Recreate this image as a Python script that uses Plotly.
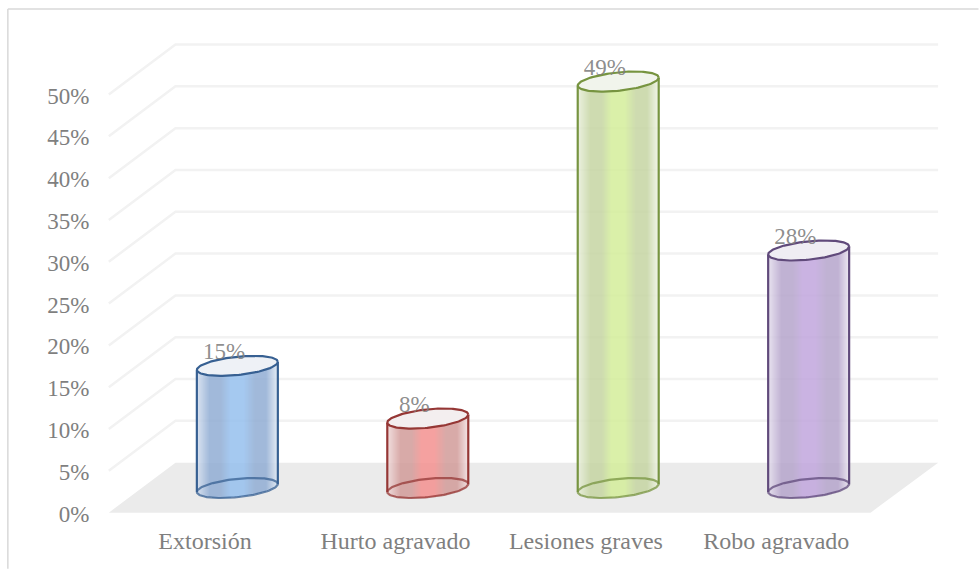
import numpy as np
import plotly.graph_objects as go

categories = ["Extorsión", "Hurto agravado", "Lesiones graves", "Robo agravado"]
values = [14.6, 8.3, 48.6, 28.4]
y_ticks = [0, 5, 10, 15, 20, 25, 30, 35, 40, 45, 50]
outline = ["#376092", "#953735", "#779440", "#604a7b"]
centre_rgb = [(150, 192, 238), (243, 146, 144), (212, 238, 155), (193, 167, 221)]
shade_rgb = [(146, 174, 212), (210, 156, 154), (198, 213, 163), (182, 165, 204)]
cap_rgb = [(238, 241, 246), (243, 238, 239), (241, 244, 236), (239, 237, 243)]

FONT = "Liberation Serif"
GREY = "#7f7f7f"
DEPTH_X, DEPTH_Y = 0.35, 5.98
XR = [-0.52, 3.87]
YR = [-0.4, 56.4]
SX, SY = 190.5, 8.36
BAR_OFF, BAR_A = 0.175, 0.2126
ELL_K, ELL_C, BASE = 0.48, 1.1, 2.95
ALPHA = 0.86

fig = go.Figure()

# floor and wall grid sit under everything
fig.add_shape(type="path", xref="x", yref="y", layer="below", line_width=0, fillcolor="#ebebeb",
              path=f"M -0.5 0 L 3.5 0 L 3.855 {DEPTH_Y} L -0.15 {DEPTH_Y} Z")
for v in y_ticks[1:]:
    fig.add_shape(type="path", xref="x", yref="y", layer="below",
                  line=dict(color="#f2f2f2", width=2.5),
                  path=f"M -0.5 {v} L -0.15 {v + DEPTH_Y} L 3.855 {v + DEPTH_Y}")


def mix(a, b, t):
    return tuple(a[i] + (b[i] - a[i]) * t for i in range(3))


def rgba(c):
    return f"rgba({c[0]:.0f},{c[1]:.0f},{c[2]:.0f},{ALPHA})"


def ellipse(cx, yc):
    t = np.linspace(0, 2 * np.pi, 120)
    return cx + BAR_A * np.cos(t), yc + ELL_K * np.cos(t) + ELL_C * np.sin(t)


def line(xs, ys, color, width, opacity=1.0, fill=None):
    fig.add_trace(go.Scatter(x=xs, y=ys, mode="lines", opacity=opacity,
                             fill="toself" if fill else "none", fillcolor=fill,
                             line=dict(color=color, width=width),
                             hoverinfo="skip", showlegend=False, cliponaxis=False))


for i, val in enumerate(values):
    cx = i + BAR_OFF
    top = BASE + val
    centre, shade = centre_rgb[i], shade_rgb[i]
    scale = [[0.0, rgba(mix(shade, (255, 255, 255), 0.62))], [0.16, rgba(shade)], [0.30, rgba(shade)],
             [0.42, rgba(centre)], [0.58, rgba(centre)], [0.72, rgba(shade)], [0.86, rgba(shade)],
             [1.0, rgba(mix(shade, (255, 255, 255), 0.72))]]
    u = np.linspace(-1, 1, 82)
    root = np.sqrt(np.clip(1 - u ** 2, 0, None))
    ys = np.arange(BASE - ELL_C - ELL_K, top + ELL_C, 0.06)
    low = BASE + ELL_K * u - ELL_C * root
    up = top + ELL_K * u - ELL_C * root
    f = (u + 1) / 2
    z = np.where((ys[:, None] >= low) & (ys[:, None] <= up), f, np.nan)
    fig.add_trace(go.Heatmap(x=cx + BAR_A * u, y=ys, z=z, zmin=0, zmax=1, colorscale=scale,
                             showscale=False, hoverinfo="skip"))
    ex, ey = ellipse(cx, BASE)
    line(ex, ey, outline[i], 2.2, opacity=0.75)
    for s in (-1, 1):
        line([cx + s * BAR_A] * 2, [BASE + s * ELL_K, top + s * ELL_K], outline[i], 2.2)
    ex, ey = ellipse(cx, top)
    line(ex, ey, outline[i], 2.2, fill="rgb(%d,%d,%d)" % cap_rgb[i])

# data labels
fig.add_trace(go.Scatter(
    x=[i + BAR_OFF - 0.07 for i in range(4)],
    y=[BASE + v + 1.5 for v in values],
    mode="text", text=[f"{round(v)}%" for v in values],
    textfont=dict(family=FONT, size=23, color="rgba(127,127,127,0.9)"),
    hoverinfo="skip", showlegend=False, cliponaxis=False))

# chart frame
W, H = 979, 569
L = 109 + (XR[0] + 0.5) * SX
R = W - (L + (XR[1] - XR[0]) * SX)
T = 513 - YR[1] * SY
B = H - (T + (YR[1] - YR[0]) * SY)
pw, ph = W - L - R, H - T - B
px = lambda p: (p - L) / pw
py = lambda p: (H - B - p) / ph
frame = "#d9d9d9"
fig.add_shape(type="line", xref="paper", yref="paper", x0=px(8), x1=px(979), y0=py(9.5), y1=py(9.5),
              line=dict(color=frame, width=1.5))
fig.add_shape(type="line", xref="paper", yref="paper", x0=px(8), x1=px(8), y0=py(9.5), y1=py(569),
              line=dict(color=frame, width=1.5))

fig.update_layout(
    width=W, height=H, margin=dict(l=L, r=R, t=T, b=B, autoexpand=False),
    paper_bgcolor="white", plot_bgcolor="white", showlegend=False,
    xaxis=dict(range=XR, tickvals=list(range(4)), ticktext=categories, showgrid=False, automargin=False,
               zeroline=False, showline=False, ticks="outside", ticklen=3, tickcolor="rgba(0,0,0,0)",
               ticklabelshift=1, tickfont=dict(family=FONT, size=24, color=GREY)),
    yaxis=dict(range=YR, tickvals=y_ticks, ticktext=[f"{v}%" for v in y_ticks], showgrid=False, automargin=False,
               zeroline=False, showline=False, ticks="outside", ticklen=10, tickcolor="rgba(0,0,0,0)",
               ticklabelshift=1, tickfont=dict(family=FONT, size=23, color=GREY)),
)

fig.write_html("out.html", config={"displayModeBar": False}, post_script="document.body.style.margin='0';")
